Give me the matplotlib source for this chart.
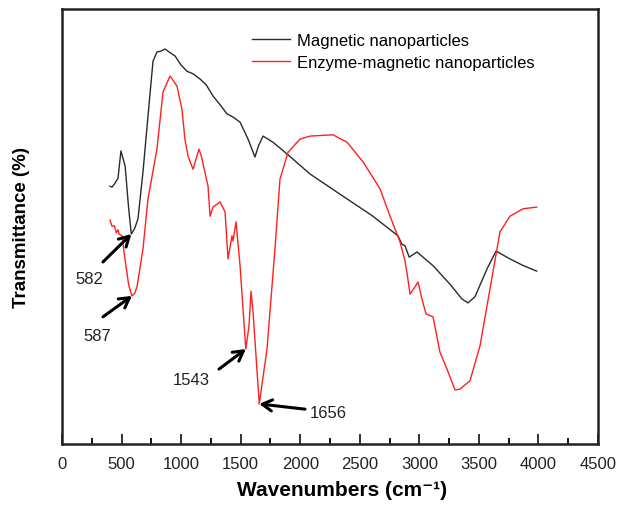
import matplotlib
matplotlib.use('Agg')
import matplotlib.pyplot as plt

# Data (wavenumber, transmittance in arbitrary %)
mag_wn = [403, 420, 440, 470, 495, 530, 560, 582, 610, 638, 680, 722, 764, 797, 830, 865,
          900, 949, 1000, 1049, 1100, 1159, 1210, 1268, 1330, 1385, 1440, 1495, 1562,
          1620, 1650, 1688, 1771, 1850, 1940, 2082, 2359, 2600, 2821, 2853, 2880, 2915,
          2980, 3117, 3257, 3358, 3408, 3467, 3568, 3644, 3761, 3870, 3985]
mag_T = [59.2, 59.0, 59.7, 61.0, 67.3, 63.8, 54.0, 48.2, 49.5, 51.7, 62.5, 75.3, 87.9, 90.0,
         90.2, 90.7, 90.0, 89.1, 87.0, 85.6, 85.0, 83.8, 82.5, 79.9, 77.8, 75.8, 75.0, 73.9,
         70.0, 65.9, 68.5, 70.7, 69.3, 67.5, 65.4, 62.0, 56.9, 52.5, 47.8, 45.9, 45.5, 42.9,
         44.1, 40.9, 36.7, 33.3, 32.4, 33.8, 40.2, 44.3, 42.5, 41.0, 39.7]

enz_wn = [403, 420, 440, 455, 470, 479, 504, 525, 560, 587, 610, 630, 680, 722, 797, 848,
          907, 965, 1007, 1032, 1058, 1100, 1150, 1170, 1226, 1243, 1268, 1327, 1369, 1394,
          1427, 1436, 1461, 1495, 1543, 1570, 1587, 1604, 1656, 1721, 1788, 1830, 1898,
          1998, 2082, 2275, 2393, 2527, 2670, 2754, 2838, 2880, 2900, 2922, 2964, 2989,
          3022, 3056, 3115, 3173, 3232, 3300, 3340, 3425, 3509, 3593, 3677, 3761, 3870, 3985]
enz_T = [51.4, 50.0, 50.1, 48.5, 49.2, 48.2, 47.8, 43.2, 36.5, 34.0, 34.6, 36.1, 44.8, 56.3,
         67.7, 80.8, 84.5, 82.2, 76.9, 70.0, 66.1, 63.1, 67.7, 66.1, 59.2, 52.3, 54.4, 55.6,
         53.3, 42.5, 47.8, 46.6, 51.0, 40.9, 21.8, 27.1, 35.1, 30.3, 9.2, 21.8, 44.8, 60.8,
         67.0, 70.0, 70.7, 71.0, 69.3, 64.8, 58.6, 52.3, 46.4, 42.0, 38.6, 34.4, 36.1, 37.2,
         33.3, 29.9, 29.2, 21.1, 17.2, 12.4, 12.6, 14.5, 22.5, 35.6, 48.7, 52.3, 54.0, 54.4]

# peak labels: text, tip (x, y), arrow tail (x, y), label position (x, y), alignment
peak_labels = ['582', '587', '1543', '1656']
peak_tips = [(582, 48.2), (587, 34.0), (1543, 21.8), (1656, 9.2)]
peak_tails = [(344, 41.8), (344, 29.2), (1318, 17.2), (2040, 8.0)]
peak_text = [(227, 37.9), (294, 25.0), (1083, 14.9), (2082, 7.3)]
peak_ha = ['center', 'center', 'center', 'left']

plt.rcParams['font.family'] = ['Liberation Sans', 'DejaVu Sans']

fig = plt.figure(figsize=(6.21, 5.06), dpi=100)
ax = fig.add_axes([62 / 621, 1 - 445 / 506, 536 / 621, 435.5 / 506])

ax.plot(mag_wn, mag_T, color='#2a2a2a', lw=1.0, label='Magnetic nanoparticles')
ax.plot(enz_wn, enz_T, color='#ff2020', lw=1.0, label='Enzyme-magnetic nanoparticles')

for lab, tip, tail, pos, ha in zip(peak_labels, peak_tips, peak_tails, peak_text, peak_ha):
    ax.annotate('', xy=tip, xytext=tail,
                arrowprops=dict(arrowstyle='->,head_length=0.7,head_width=0.4',
                                color='black', lw=2.2, shrinkA=0, shrinkB=0))
    ax.text(pos[0], pos[1], lab, fontsize=12, ha=ha, va='center', color='#222222')

ax.set_xlim(0, 4500)
ax.set_ylim(0, 100)
ax.set_xticks(range(0, 4501, 500))
ax.set_xticks(range(250, 4500, 500), minor=True)
ax.set_yticks([])
ax.tick_params(axis='x', which='major', direction='in', length=7, width=1.3,
               labelsize=12, pad=9, colors='#222222')
ax.tick_params(axis='x', which='minor', direction='in', length=4, width=1.3)
for sp in ax.spines.values():
    sp.set_linewidth(1.8)
    sp.set_color('#222222')

ax.set_xlabel('Wavenumbers (cm⁻¹)', fontsize=15, fontweight='bold')
ax.xaxis.set_label_coords(0.522, -0.083)
ax.set_ylabel('Transmittance (%)', fontsize=13.5, fontweight='bold', labelpad=23)

ax.legend(loc='upper left', bbox_to_anchor=(0.354, 0.943), frameon=False, fontsize=12,
          borderaxespad=0, borderpad=0, handlelength=2.3, handletextpad=0.4,
          labelspacing=0.42)

fig.savefig('out.png', dpi=100)
